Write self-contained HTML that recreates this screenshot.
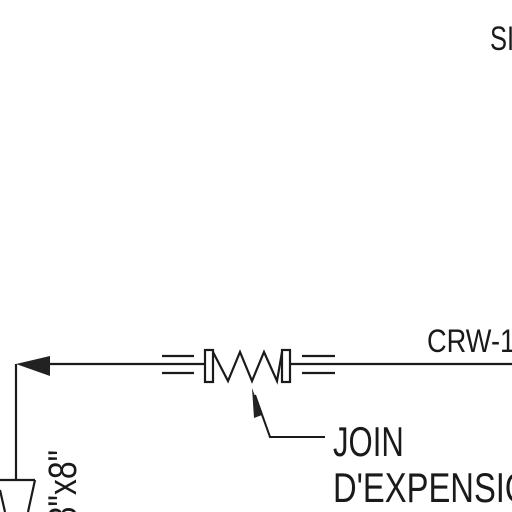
<!DOCTYPE html>
<html><head><meta charset="utf-8"><style>
html,body{margin:0;padding:0;background:#fff;width:512px;height:512px;overflow:hidden}
svg{display:block}
text{font-family:"Liberation Sans",sans-serif;fill:#1a1a1a}
</style></head><body>
<svg width="512" height="512" viewBox="0 0 512 512">
<rect width="512" height="512" fill="#fff"/>
<g stroke="#1a1a1a" stroke-width="2.2" fill="none">
  <line x1="45" y1="364" x2="205" y2="364"/>
  <line x1="162" y1="356" x2="194" y2="356"/>
  <line x1="162" y1="373" x2="194" y2="373"/>
  <line x1="290" y1="364" x2="512" y2="364"/>
  <line x1="302" y1="356" x2="335" y2="356"/>
  <line x1="302" y1="373" x2="335" y2="373"/>
  <line x1="16" y1="364" x2="16" y2="480"/>
  <line x1="0" y1="480" x2="35" y2="480"/>
  <line x1="35" y1="480" x2="28" y2="512"/>
  <line x1="0" y1="490" x2="5" y2="512"/>
</g>
<polygon points="16,364 50,356 50,376" fill="#222"/>
<g stroke="#1a1a1a" stroke-width="2.2" fill="none">
  <rect x="205" y="350" width="8" height="32"/>
  <rect x="282" y="350" width="8" height="32"/>
  <polyline points="213,352 228,381 240,352 252,381 264,352 277,381 282,352"/>
</g>
<g>
  <polyline points="255,395 270,437 325,437" stroke="#1a1a1a" stroke-width="2" fill="none"/>
  <polygon points="252,388 262,415 254,418" fill="#222"/>
</g>
<text x="333" y="456" font-size="42" transform="translate(333 0) scale(0.74 1) translate(-333 0)">JOIN</text>
<text x="333" y="502" font-size="42" transform="translate(333 0) scale(0.78 1) translate(-333 0)">D'EXPENSION</text>
<text x="427" y="352" font-size="32" transform="translate(427 0) scale(0.85 1) translate(-427 0)">CRW-1</text>
<text x="490" y="50" font-size="34" transform="translate(490 0) scale(0.75 1) translate(-490 0)">SI</text>
<text x="0" y="0" font-size="40" text-anchor="end" transform="translate(76 450) rotate(-90) scale(0.8 1)">8"x8"</text>
</svg>
</body></html>
